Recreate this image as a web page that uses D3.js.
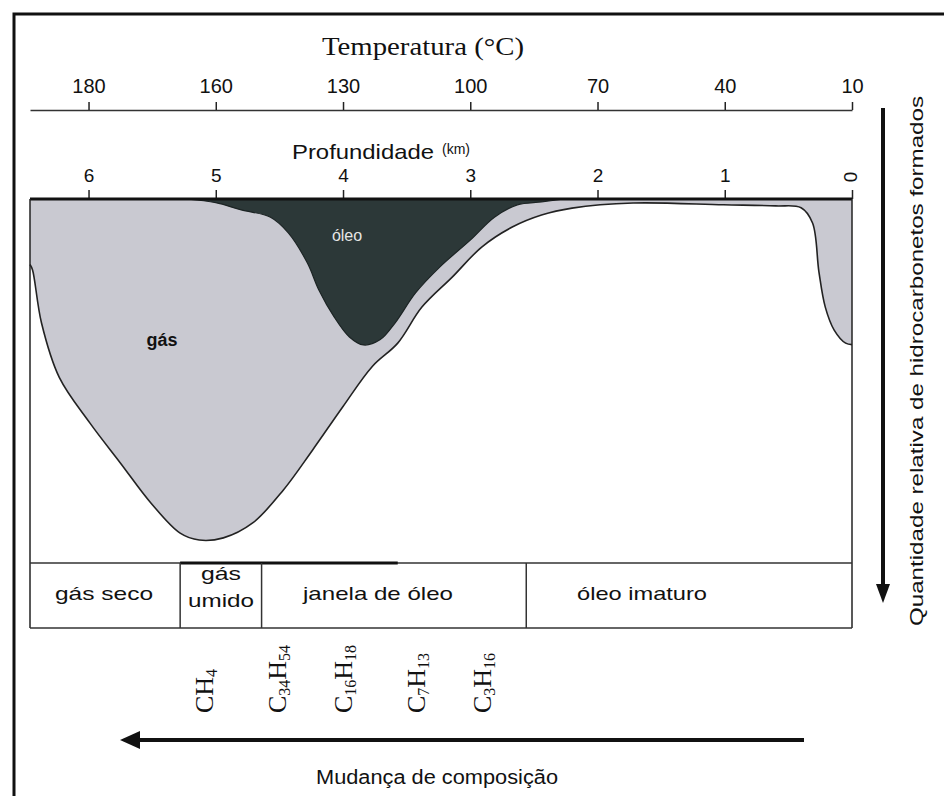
<!DOCTYPE html>
<html>
<head>
<meta charset="utf-8">
<script src="https://cdn.jsdelivr.net/npm/d3@7"></script>
<style>
  body { margin: 0; background: #fff; }
  svg { display: block; }
</style>
</head>
<body>
<script>
var w = 944, h = 796;

var depthTicks = [6, 5, 4, 3, 2, 1, 0];
var tempLabels = [180, 160, 130, 100, 70, 40, 10];

// gas envelope: depth (km) vs relative amount (0 at top, grows downwards)
var gasDepth = [6.46, 6.44, 6.37, 6.23, 5.99, 5.75, 5.51, 5.28, 5.13, 4.94, 4.71, 4.47, 4.24, 4.00, 3.77, 3.57, 3.38, 3.14, 2.91, 2.67, 2.44, 2.20, 1.72, 1.01, 0.60, 0.40, 0.31, 0.26, 0.21, 0.14, 0.05, 0];
var gasAmount = [18, 19.5, 34, 49, 61.5, 72.5, 83.5, 91.8, 93.7, 93.1, 89, 80, 69, 57, 46, 39.6, 29.7, 21.4, 13.2, 7.7, 4.4, 2.5, 1.1, 1.6, 1.9, 2.4, 6.6, 20, 29.7, 36, 39.6, 40];

// oil
var oilDepth = [5.23, 5.0, 4.80, 4.57, 4.43, 4.28, 4.19, 4.07, 3.95, 3.84, 3.71, 3.59, 3.43, 3.24, 3.00, 2.81, 2.63, 2.44, 2.26];
var oilAmount = [0, 1, 3, 5, 9.3, 17.6, 25, 32.4, 37.9, 40.1, 38.7, 34, 25.8, 18.7, 11.3, 5, 1.6, 0.8, 0];

// zones in the strip under the plot
var zoneEdges = [6.46, 5.28, 4.64, 2.56, 0];
var zoneNames = [["gás seco"], ["gás", "umido"], ["janela de óleo"], ["óleo imaturo"]];

// formulas (parts alternate normal / subscript)
var formulas = [["CH", "4"], ["C", "34", "H", "54"], ["C", "16", "H", "18"], ["C", "7", "H", "13"], ["C", "3", "H", "16"]];
var formulaDepth = [5.09, 4.52, 4.0, 3.43, 2.91];

var sans = "'Liberation Sans', Arial, sans-serif";
var serif = "'Liberation Serif', 'Times New Roman', serif";

var x = d3.scaleLinear().domain([6.46, 0]).range([30, 852]);
var y = d3.scaleLinear().domain([0, 100]).range([199, 563]);

var svg = d3.select("body").append("svg")
    .attr("width", w)
    .attr("height", h);

// outer frame
svg.append("path")
    .attr("d", "M14," + h + "V14H" + w)
    .attr("fill", "none")
    .attr("stroke", "#111")
    .attr("stroke-width", 3);

// temperature axis
var tempAxis = d3.axisTop(x)
    .tickValues(depthTicks)
    .tickFormat(function (d, i) { return tempLabels[i]; })
    .tickSize(8)
    .tickSizeOuter(0);
var gT = svg.append("g")
    .attr("transform", "translate(0,110)")
    .call(tempAxis);
gT.select(".domain").attr("stroke", "#333").attr("stroke-width", 1.5);
gT.selectAll(".tick line").attr("stroke", "#222").attr("stroke-width", 1.5);
gT.selectAll(".tick text")
    .attr("font-family", sans)
    .attr("font-size", "20px")
    .attr("fill", "#111")
    .attr("dy", "-0.3em");

svg.append("text")
    .attr("x", 322)
    .attr("y", 55)
    .attr("font-family", serif)
    .attr("font-size", "26px")
    .attr("fill", "#111")
    .attr("textLength", 202)
    .attr("lengthAdjust", "spacingAndGlyphs")
    .text("Temperatura (°C)");

// depth axis
var depthAxis = d3.axisTop(x)
    .tickValues(depthTicks)
    .tickFormat(function (d) { return d; })
    .tickSize(9)
    .tickSizeOuter(0);
var gD = svg.append("g")
    .attr("transform", "translate(0,199)")
    .call(depthAxis);
gD.select(".domain").remove();
gD.selectAll(".tick line").attr("stroke", "#222").attr("stroke-width", 1.5);
gD.selectAll(".tick text")
    .attr("font-family", sans)
    .attr("font-size", "19px")
    .attr("fill", "#111")
    .attr("dy", "-0.25em")
    .filter(function (d) { return d === 0; })
    .attr("transform", "translate(-2,-22) rotate(-90)")
    .attr("dy", "0.35em")
    .attr("x", 0)
    .attr("y", 0)
    .attr("text-anchor", "middle");

svg.append("text")
    .attr("x", 292)
    .attr("y", 159)
    .attr("font-family", sans)
    .attr("font-size", "21px")
    .attr("fill", "#111")
    .attr("textLength", 142)
    .attr("lengthAdjust", "spacingAndGlyphs")
    .text("Profundidade");
svg.append("text")
    .attr("x", 442)
    .attr("y", 154)
    .attr("font-family", sans)
    .attr("font-size", "14px")
    .attr("fill", "#111")
    .text("(km)");

// areas
var gasData = gasDepth.map(function (d, i) { return { depth: d, v: gasAmount[i] }; });
var oilData = oilDepth.map(function (d, i) { return { depth: d, v: oilAmount[i] }; });

var area = d3.area()
    .x(function (d) { return x(d.depth); })
    .y0(y(0))
    .y1(function (d) { return y(d.v); })
    .curve(d3.curveCatmullRom.alpha(0.5));
var line = d3.line()
    .x(function (d) { return x(d.depth); })
    .y(function (d) { return y(d.v); })
    .curve(d3.curveCatmullRom.alpha(0.5));

svg.append("path")
    .datum(gasData)
    .attr("d", area)
    .attr("fill", "#c9c9d1");
svg.append("path")
    .datum(gasData)
    .attr("d", line)
    .attr("fill", "none")
    .attr("stroke", "#222")
    .attr("stroke-width", 1.6);

svg.append("path")
    .datum(oilData)
    .attr("d", area)
    .attr("fill", "#2c3838");
svg.append("path")
    .datum(oilData)
    .attr("d", line)
    .attr("fill", "none")
    .attr("stroke", "#1c2424")
    .attr("stroke-width", 1.2);

svg.append("text")
    .attr("x", 347)
    .attr("y", 241)
    .attr("text-anchor", "middle")
    .attr("font-family", sans)
    .attr("font-size", "16px")
    .attr("fill", "#e6e6e6")
    .text("óleo");

svg.append("text")
    .attr("x", 162)
    .attr("y", 346)
    .attr("text-anchor", "middle")
    .attr("font-family", sans)
    .attr("font-weight", "bold")
    .attr("font-size", "18px")
    .attr("fill", "#111")
    .text("gás");

// plot frame
svg.append("line")
    .attr("x1", x(6.46)).attr("x2", x(0))
    .attr("y1", y(0)).attr("y2", y(0))
    .attr("stroke", "#111").attr("stroke-width", 3);
svg.append("line")
    .attr("x1", x(0)).attr("x2", x(0))
    .attr("y1", y(0)).attr("y2", 628)
    .attr("stroke", "#222").attr("stroke-width", 1.5);
svg.append("line")
    .attr("x1", x(6.46)).attr("x2", x(6.46))
    .attr("y1", y(0)).attr("y2", 628)
    .attr("stroke", "#222").attr("stroke-width", 1.5);

// zone strip
var strip = svg.append("g");
strip.append("line")
    .attr("x1", x(6.46)).attr("x2", x(0))
    .attr("y1", 563).attr("y2", 563)
    .attr("stroke", "#333").attr("stroke-width", 1.5);
strip.append("line")
    .attr("x1", x(5.28)).attr("x2", x(3.57))
    .attr("y1", 563).attr("y2", 563)
    .attr("stroke", "#111").attr("stroke-width", 3);
strip.append("line")
    .attr("x1", x(6.46)).attr("x2", x(0))
    .attr("y1", 628).attr("y2", 628)
    .attr("stroke", "#333").attr("stroke-width", 1.5);
strip.selectAll(".edge")
    .data(zoneEdges.slice(1, -1))
    .enter()
    .append("line")
    .attr("x1", function (d) { return x(d); })
    .attr("x2", function (d) { return x(d); })
    .attr("y1", 563).attr("y2", 628)
    .attr("stroke", "#333").attr("stroke-width", 1.5);

var zoneCx = [104, 221, 378, 642];
var zoneLen = [[98], [40, 66], [150], [130]];
strip.selectAll(".zone")
    .data(zoneNames)
    .enter()
    .append("text")
    .attr("text-anchor", "middle")
    .attr("font-family", sans)
    .attr("font-size", "19px")
    .attr("fill", "#111")
    .each(function (d, i) {
        var t = d3.select(this);
        var ys = d.length === 1 ? [600] : [580, 607];
        d.forEach(function (s, j) {
            t.append("tspan")
                .attr("x", zoneCx[i])
                .attr("y", ys[j])
                .attr("textLength", zoneLen[i][j])
                .attr("lengthAdjust", "spacingAndGlyphs")
                .text(s);
        });
    });

// formulas, rotated
svg.selectAll(".formula")
    .data(formulas)
    .enter()
    .append("text")
    .attr("transform", function (d, i) {
        return "translate(" + (x(formulaDepth[i]) + 9) + ",713) rotate(-90)";
    })
    .attr("font-family", serif)
    .attr("font-size", "26px")
    .attr("fill", "#111")
    .each(function (d) {
        var t = d3.select(this);
        d.forEach(function (p, j) {
            var sp = t.append("tspan").text(p);
            if (j % 2 === 1) {
                sp.attr("font-size", "16px").attr("dy", 4);
            } else if (j > 0) {
                sp.attr("dy", -4);
            }
        });
    });

// composition arrow
svg.append("line")
    .attr("x1", 804).attr("x2", 136)
    .attr("y1", 740).attr("y2", 740)
    .attr("stroke", "#111").attr("stroke-width", 4);
svg.append("path")
    .attr("d", "M120,740L140,731L140,749Z")
    .attr("fill", "#111");
svg.append("text")
    .attr("x", 437)
    .attr("y", 784)
    .attr("text-anchor", "middle")
    .attr("font-family", sans)
    .attr("font-size", "20px")
    .attr("fill", "#111")
    .attr("textLength", 242)
    .attr("lengthAdjust", "spacingAndGlyphs")
    .text("Mudança de composição");

// amount arrow
svg.append("line")
    .attr("x1", 883).attr("x2", 883)
    .attr("y1", 108).attr("y2", 588)
    .attr("stroke", "#111").attr("stroke-width", 4);
svg.append("path")
    .attr("d", "M883,603L876,584L890,584Z")
    .attr("fill", "#111");
svg.append("text")
    .attr("transform", "translate(923,361) rotate(-90)")
    .attr("text-anchor", "middle")
    .attr("font-family", sans)
    .attr("font-size", "19px")
    .attr("fill", "#111")
    .attr("textLength", 530)
    .attr("lengthAdjust", "spacingAndGlyphs")
    .text("Quantidade relativa de hidrocarbonetos formados");
</script>
</body>
</html>
